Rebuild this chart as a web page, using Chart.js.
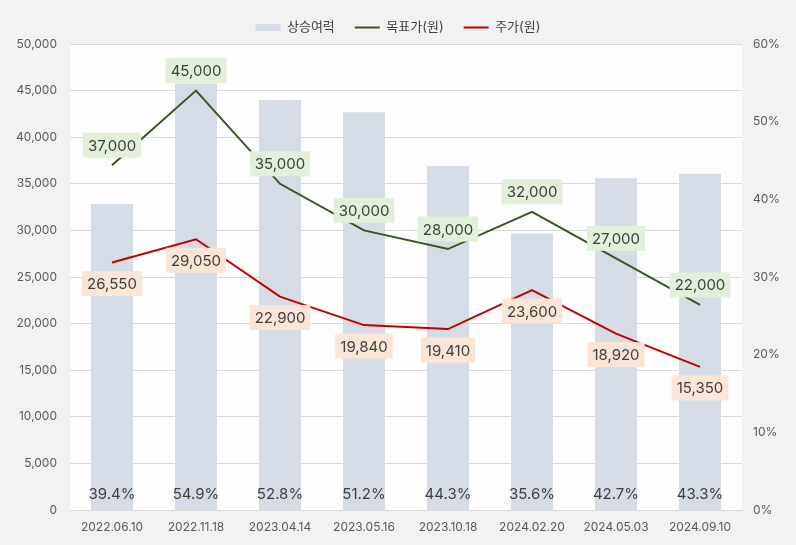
<!DOCTYPE html>
<html lang="ko">
<head>
<meta charset="utf-8">
<script src="https://cdn.jsdelivr.net/npm/chart.js@4.4.1/dist/chart.umd.min.js"></script>
<style>
  html, body { margin: 0; padding: 0; background: #f2f2f2; }
  #wrap { width: 796px; height: 545px; }
</style>
</head>
<body>
<div id="wrap"><canvas id="chart" width="796" height="545"></canvas></div>
<script>
const dates = ['2022.06.10', '2022.11.18', '2023.04.14', '2023.05.16', '2023.10.18', '2024.02.20', '2024.05.03', '2024.09.10'];
const targetPrice = [37000, 45000, 35000, 30000, 28000, 32000, 27000, 22000];
const stockPrice = [26550, 29050, 22900, 19840, 19410, 23600, 18920, 15350];
const upside = [39.4, 54.9, 52.8, 51.2, 44.3, 35.6, 42.7, 43.3];

const FONT = 'Inter, "Noto Sans CJK KR", sans-serif';
const TEXT = '#404040';

const backgroundPlugin = {
  id: 'bg',
  beforeDraw(chart) {
    const { ctx, chartArea } = chart;
    ctx.save();
    ctx.fillStyle = '#f2f2f2';
    ctx.fillRect(0, 0, chart.width, chart.height);
    ctx.fillStyle = '#fdfdfd';
    ctx.fillRect(chartArea.left, chartArea.top, chartArea.right - chartArea.left, chartArea.bottom - chartArea.top);
    ctx.restore();
  }
};

function drawBoxLabel(ctx, text, x, y, bg) {
  ctx.font = `15px ${FONT}`;
  const w = ctx.measureText(text).width + 10;
  const h = 25;
  ctx.fillStyle = bg;
  ctx.fillRect(x - w / 2, y - h / 2, w, h);
  ctx.fillStyle = TEXT;
  ctx.textAlign = 'center';
  ctx.textBaseline = 'middle';
  ctx.fillText(text, x, y + 1);
}

const labelPlugin = {
  id: 'labels',
  afterDatasetsDraw(chart) {
    const { ctx, chartArea } = chart;
    ctx.save();
    // 상승여력 at bar bottoms
    chart.getDatasetMeta(0).data.forEach((bar, i) => {
      ctx.font = `15px ${FONT}`;
      ctx.fillStyle = TEXT;
      ctx.textAlign = 'center';
      ctx.textBaseline = 'middle';
      ctx.fillText(upside[i].toFixed(1) + '%', bar.x, chartArea.bottom - 16);
    });
    chart.getDatasetMeta(1).data.forEach((pt, i) => {
      drawBoxLabel(ctx, targetPrice[i].toLocaleString('en-US'), pt.x, pt.y - 20, '#e2efda');
    });
    chart.getDatasetMeta(2).data.forEach((pt, i) => {
      drawBoxLabel(ctx, stockPrice[i].toLocaleString('en-US'), pt.x, pt.y + 21, '#fbe5d6');
    });
    ctx.restore();
  }
};

new Chart(document.getElementById('chart'), {
  data: {
    labels: dates,
    datasets: [
      {
        type: 'bar',
        label: '상승여력',
        data: upside,
        yAxisID: 'y1',
        backgroundColor: '#d6dce5',
        borderWidth: 0,
        pointStyle: 'rect',
        categoryPercentage: 1,
        barPercentage: 0.5,
        order: 3
      },
      {
        type: 'line',
        label: '목표가(원)',
        data: targetPrice,
        yAxisID: 'y',
        borderColor: '#375623',
        backgroundColor: '#375623',
        borderWidth: 2,
        pointRadius: 0,
        pointStyle: 'line',
        tension: 0,
        order: 1
      },
      {
        type: 'line',
        label: '주가(원)',
        data: stockPrice,
        yAxisID: 'y',
        borderColor: '#c00000',
        backgroundColor: '#c00000',
        borderWidth: 2,
        pointRadius: 0,
        pointStyle: 'line',
        tension: 0,
        order: 2
      }
    ]
  },
  options: {
    responsive: false,
    animation: false,
    layout: { padding: { top: 1, left: 0, right: 0, bottom: 0 } },
    plugins: {
      legend: {
        position: 'top',
        labels: {
          usePointStyle: true,
          pointStyleWidth: 25,
          boxHeight: 7,
          padding: 20,
          color: TEXT,
          font: { family: FONT, size: 13 },
          sort: (a, b) => a.datasetIndex - b.datasetIndex
        }
      },
      tooltip: { enabled: false }
    },
    scales: {
      x: {
        grid: { display: false, drawTicks: false },
        border: { color: '#d9d9d9' },
        ticks: { color: '#595959', padding: 10, font: { family: FONT, size: 12 } },
        afterFit(scale) { scale.height = 35; }
      },
      y: {
        position: 'left',
        min: 0,
        max: 50000,
        grid: { color: '#d9d9d9', drawTicks: false },
        border: { display: false },
        ticks: {
          stepSize: 5000,
          padding: 13,
          color: '#595959',
          font: { family: FONT, size: 12 },
          callback: (v) => v.toLocaleString('en-US')
        },
        afterFit(scale) { scale.width = 70; }
      },
      y1: {
        position: 'right',
        min: 0,
        max: 60,
        grid: { display: false, drawTicks: false },
        border: { display: false },
        ticks: {
          stepSize: 10,
          padding: 11,
          color: '#595959',
          font: { family: FONT, size: 12 },
          callback: (v) => v + '%'
        },
        afterFit(scale) { scale.width = 54; }
      }
    }
  },
  plugins: [backgroundPlugin, labelPlugin]
});
</script>
</body>
</html>
